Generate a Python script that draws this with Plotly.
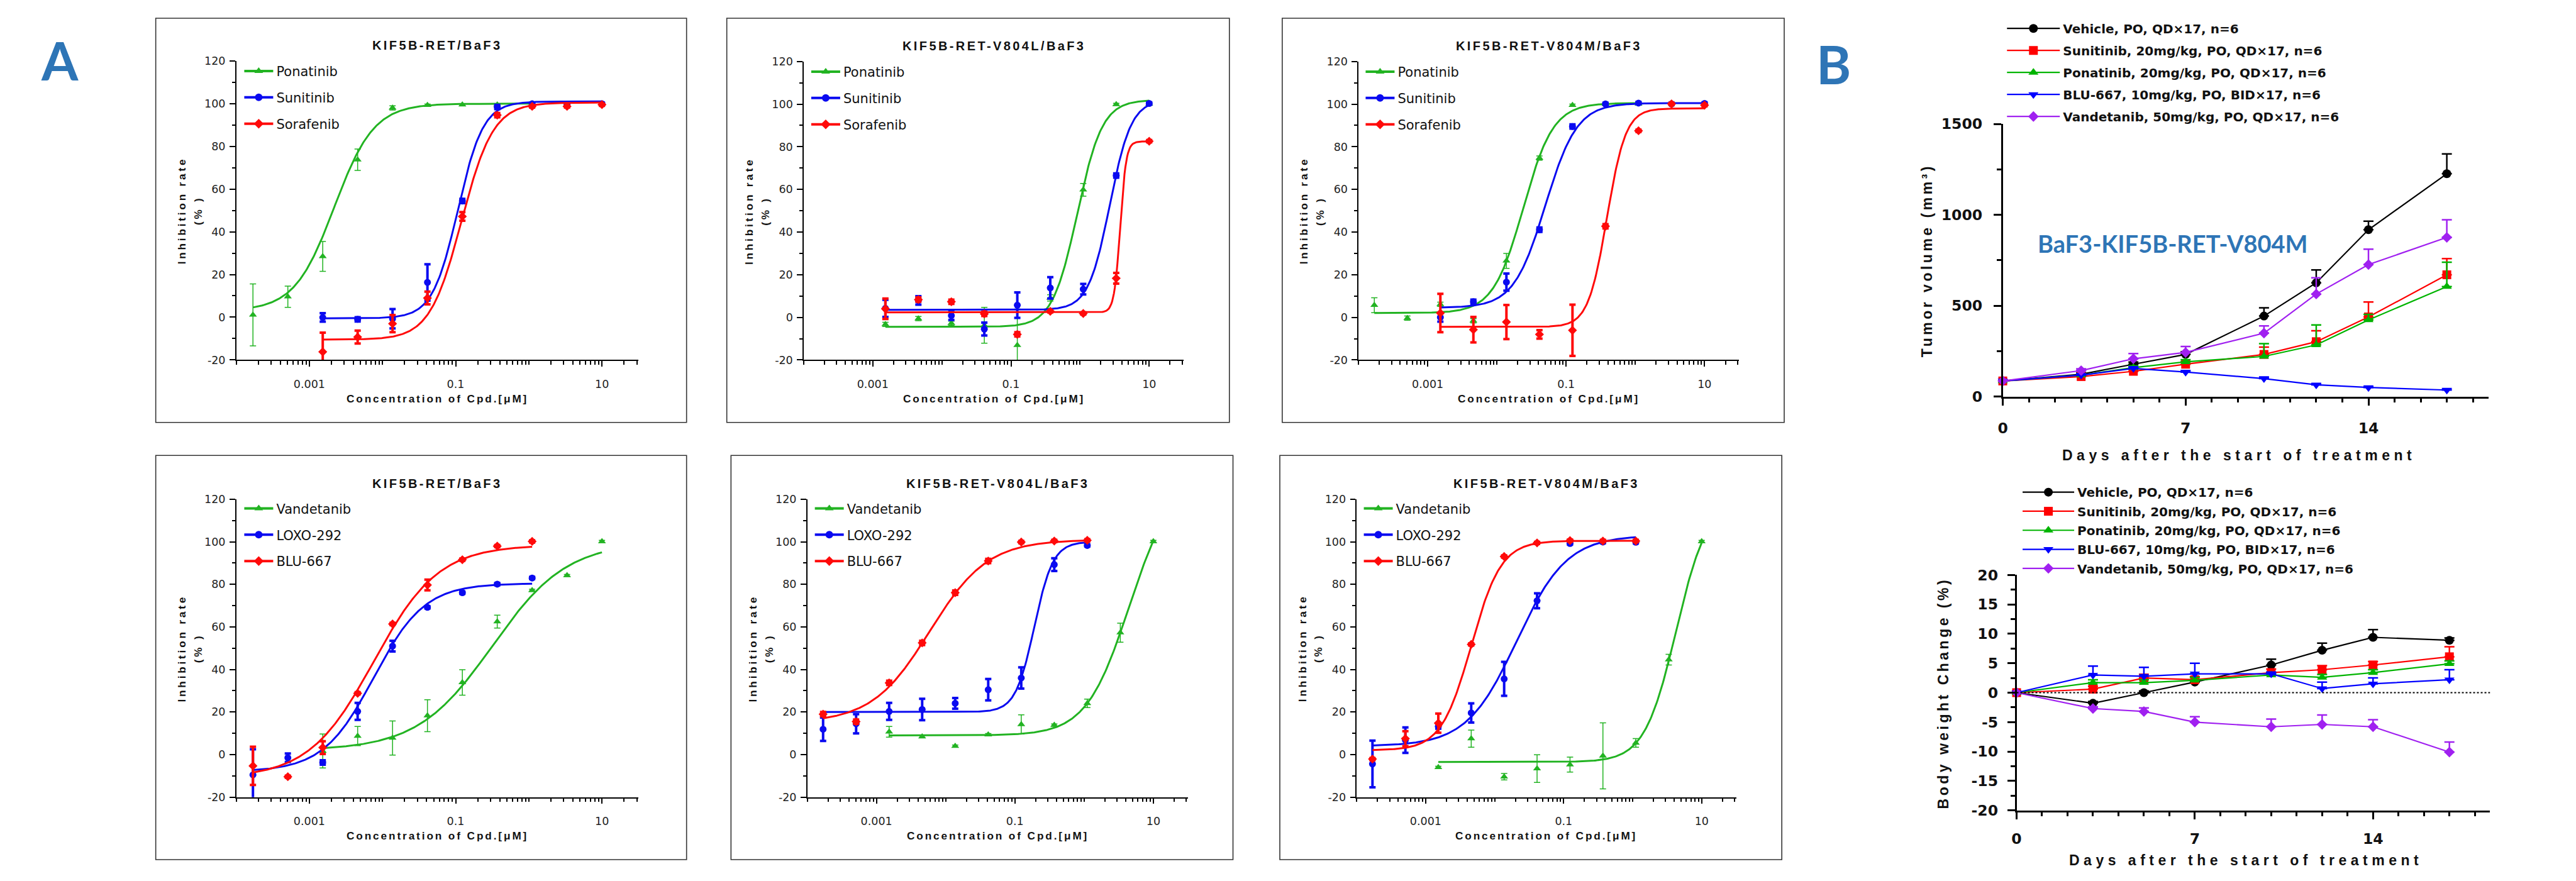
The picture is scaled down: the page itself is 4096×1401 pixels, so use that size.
import numpy as np
import plotly.graph_objects as go

# ============================ DATA ============================
# 3-fold dilution series (uM), highest -> lowest
conc = [10, 3.333, 1.111, 0.3704, 0.1235, 0.04115, 0.01372, 0.004572, 0.001524, 0.000508, 0.0001694]
conc_ticks = [0.001, 0.1, 10]
conc_ticklabels = ["0.001", "0.1", "10"]
inhib_ticks = [-20, 0, 20, 40, 60, 80, 100, 120]

panel_titles = ["KIF5B-RET/BaF3", "KIF5B-RET-V804L/BaF3", "KIF5B-RET-V804M/BaF3",
                "KIF5B-RET/BaF3", "KIF5B-RET-V804L/BaF3", "KIF5B-RET-V804M/BaF3"]
top_drugs = ["Ponatinib", "Sunitinib", "Sorafenib"]
bottom_drugs = ["Vandetanib", "LOXO-292", "BLU-667"]

N = None
# ---- panel 1 : KIF5B-RET/BaF3 ----
p1_ponatinib = [N, N, 99.9, 99.5, 99.5, 99.3, 98.0, 73.7, 28.5, 9.6, 1.1]
p1_ponatinib_sd = [N, N, 0.5, 0.5, 0.5, 0.5, 1.0, 5.0, 7.0, 5.0, 14.5]
p1_sunitinib = [99.9, 99.5, 99.9, 98.4, 54.4, 16.3, -0.7, -1.0, -0.1, N, N]
p1_sunitinib_sd = [0.5, 0.5, 0.5, 1.0, 1.0, 8.5, 4.5, 1.0, 2.0, N, N]
p1_sorafenib = [99.5, 98.7, 98.7, 94.6, 47.2, 9.0, -3.0, -9.3, -16.2, N, N]
p1_sorafenib_sd = [0.5, 0.5, 0.5, 1.0, 2.0, 3.0, 4.0, 3.0, 9.0, N, N]
# fit parameters [bottom, top, logIC50, hill]
p1_ponatinib_fit = [3, 100, -2.66, 1.6]
p1_sunitinib_fit = [-0.5, 101, -0.97, 2.5]
p1_sorafenib_fit = [-10.5, 100.5, -0.92, 2.0]

# ---- panel 2 : KIF5B-RET-V804L/BaF3 ----
p2_ponatinib = [100.1, 99.9, 59.8, 9.1, -13.1, -3.7, -2.8, -0.6, -3.3, N, N]
p2_ponatinib_sd = [0.5, 0.5, 3.0, 1.5, 17.0, 8.4, 1.0, 1.0, 1.0, N, N]
p2_sunitinib = [100.3, 66.5, 13.2, 13.8, 5.7, -5.5, 0.8, 7.9, 4.2, N, N]
p2_sunitinib_sd = [0.5, 1.0, 2.5, 5.0, 6.0, 3.0, 2.0, 2.0, 4.0, N, N]
p2_sorafenib = [82.6, 18.3, 1.8, 2.8, -8.0, 1.6, 7.3, 8.3, 4.0, N, N]
p2_sorafenib_sd = [0.5, 2.5, 0.5, 0.5, 1.0, 1.0, 1.0, 1.0, 4.8, N, N]
p2_ponatinib_fit = [-4.5, 102, -0.04, 2.4]
p2_sunitinib_fit = [3.5, 102, 0.43, 2.8]
p2_sorafenib_fit = [2.3, 82.5, 0.58, 10]

# ---- panel 3 : KIF5B-RET-V804M/BaF3 ----
p3_ponatinib = [N, N, 100.1, 100.1, 99.5, 74.7, 26.5, -1.6, 6.1, -0.4, 5.7]
p3_ponatinib_sd = [N, N, 0.5, 0.5, 0.5, 1.0, 3.5, 1.0, 1.0, 1.0, 3.5]
p3_sunitinib = [100.3, 100.1, 100.5, 100.1, 89.5, 41.1, 16.5, 7.3, 0.0, N, N]
p3_sunitinib_sd = [0.5, 0.5, 0.5, 0.5, 1.0, 1.0, 4.0, 1.0, 2.0, N, N]
p3_sorafenib = [99.5, 100.1, 87.5, 42.7, -6.1, -8.0, -2.2, -5.8, 2.0, N, N]
p3_sorafenib_sd = [0.5, 0.5, 0.5, 1.0, 12.0, 2.0, 8.0, 6.0, 9.0, N, N]
p3_ponatinib_fit = [2, 100.5, -1.62, 2.0]
p3_sunitinib_fit = [4.5, 100.5, -1.30, 1.9]
p3_sorafenib_fit = [-4.5, 98, -0.41, 3.2]

# ---- panel 4 : KIF5B-RET/BaF3 ----
p4_vandetanib = [100.2, 84.2, 77.2, 62.5, 33.9, 18.3, 7.8, 8.7, 1.7, N, N]
p4_vandetanib_sd = [0.5, 0.5, 0.5, 3.0, 6.0, 7.5, 8.0, 4.5, 8.0, N, N]
p4_loxo = [N, N, 83.0, 80.1, 76.1, 69.2, 51.0, 20.3, -3.7, -1.5, -9.5]
p4_loxo_sd = [N, N, 0.5, 0.5, 0.5, 0.5, 2.5, 4.0, 1.0, 2.0, 12.0]
p4_blu = [N, N, 100.2, 98.0, 91.6, 79.7, 61.4, 28.8, 3.3, -10.4, -5.3]
p4_blu_sd = [N, N, 0.5, 0.5, 0.5, 2.5, 0.5, 0.5, 3.0, 0.5, 9.0]
p4_vandetanib_fit = [2, 100, -0.5, 0.85]
p4_loxo_fit = [-8, 80.5, -2.12, 1.25]
p4_blu_fit = [-11, 98.5, -2.12, 0.98]

# ---- panel 5 : KIF5B-RET-V804L/BaF3 ----
p5_vandetanib = [100.2, 57.3, 24.1, 13.9, 14.2, 9.4, 4.0, 8.4, 10.7, N, N]
p5_vandetanib_sd = [0.5, 4.5, 2.0, 0.5, 4.5, 0.5, 0.5, 0.5, 2.5, N, N]
p5_loxo = [N, N, 98.3, 89.3, 36.0, 30.5, 24.1, 21.2, 20.3, 14.5, 11.9]
p5_loxo_sd = [N, N, 0.5, 3.0, 5.0, 5.0, 2.5, 5.0, 4.0, 4.5, 5.5]
p5_blu = [N, N, 100.7, 100.4, 99.9, 91.0, 76.1, 52.5, 33.7, 15.5, 19.0]
p5_blu_sd = [N, N, 0.5, 0.5, 0.5, 1.0, 1.0, 1.0, 1.0, 1.0, 1.0]
p5_vandetanib_fit = [9, 130, 0.65, 1.4]
p5_loxo_fit = [20, 100, -0.72, 3.2]
p5_blu_fit = [15, 101, -2.23, 1.04]

# ---- panel 6 : KIF5B-RET-V804M/BaF3 ----
p6_vandetanib = [100.2, 44.6, 5.5, -0.6, -4.7, -6.6, -10.4, 7.5, -6.0, N, N]
p6_vandetanib_sd = [0.5, 2.5, 2.0, 15.5, 3.5, 6.5, 1.5, 4.0, 0.5, N, N]
p6_loxo = [N, N, 99.8, 99.9, 99.2, 72.3, 35.6, 19.6, 13.2, 6.8, -4.4]
p6_loxo_sd = [N, N, 0.5, 0.5, 0.5, 3.5, 8.0, 4.5, 1.0, 6.0, 11.0]
p6_blu = [N, N, 100.4, 100.4, 100.6, 99.5, 93.1, 51.8, 14.8, 7.5, -2.1]
p6_blu_sd = [N, N, 0.5, 0.5, 0.5, 0.5, 0.5, 0.5, 4.5, 3.5, 0.5]
p6_vandetanib_fit = [-3.5, 120, 0.63, 1.9]
p6_loxo_fit = [4, 103, -1.68, 1.2]
p6_blu_fit = [2, 100.5, -2.34, 2.0]

# ---- panel B ----
days = [0, 3, 5, 7, 10, 12, 14, 17]
group_names = ["Vehicle, PO, QD×17, n=6",
               "Sunitinib, 20mg/kg, PO, QD×17, n=6",
               "Ponatinib, 20mg/kg, PO, QD×17, n=6",
               "BLU-667, 10mg/kg, PO, BID×17, n=6",
               "Vandetanib, 50mg/kg, PO, QD×17, n=6"]
tv_vehicle = [86, 123, 178, 232, 443, 626, 918, 1226]
tv_vehicle_sem = [5, 8, 12, 15, 45, 71, 47, 109]
tv_sunitinib = [86, 110, 139, 178, 232, 302, 438, 670]
tv_sunitinib_sem = [5, 8, 10, 15, 40, 60, 82, 89]
tv_ponatinib = [86, 118, 159, 191, 221, 284, 422, 605]
tv_ponatinib_sem = [5, 8, 10, 12, 70, 110, 30, 134]
tv_blu = [86, 118, 155, 135, 99, 65, 50, 36]
tv_blu_sem = [5, 5, 8, 8, 8, 6, 5, 5]
tv_vandetanib = [86, 143, 208, 243, 349, 564, 726, 876]
tv_vandetanib_sem = [5, 10, 29, 33, 40, 90, 85, 97]

bw_vehicle = [0, -1.8, 0.0, 1.8, 4.7, 7.2, 9.4, 8.9]
bw_vehicle_sem = [0, 0.3, 0.3, 0.3, 1.0, 1.2, 1.3, 0.4]
bw_sunitinib = [0, 0.6, 2.5, 2.2, 3.4, 3.9, 4.7, 6.1]
bw_sunitinib_sem = [0, 0.5, 0.6, 0.5, 0.6, 0.7, 0.6, 1.7]
bw_ponatinib = [0, 1.7, 1.7, 2.1, 3.0, 2.6, 3.4, 4.9]
bw_ponatinib_sem = [0, 0.5, 0.5, 0.5, 0.4, 0.5, 0.5, 0.5]
bw_blu = [0, 3.0, 2.8, 3.2, 3.2, 0.7, 1.5, 2.2]
bw_blu_sem = [0, 1.5, 1.5, 1.8, 0.3, 1.1, 1.0, 1.7]
bw_vandetanib = [0, -2.7, -3.2, -5.0, -5.8, -5.4, -5.8, -10.1]
bw_vandetanib_sem = [0, 0.3, 0.6, 0.9, 1.3, 1.6, 1.2, 1.7]

tv_ticks = [0, 500, 1000, 1500]
bw_ticks = [-20, -15, -10, -5, 0, 5, 10, 15, 20]
day_ticks = [0, 7, 14]
day_range = [0, 18.6]

# ============================ STYLE / GEOMETRY ============================
RW, RH = 4290, 1467          # reference pixel frame
S = 0.954
W, H = 4096, 1401
FONT = "Liberation Sans, Arial, sans-serif"
WIDEFONT = "DejaVu Sans, Verdana, sans-serif"
GREEN, BLUE, RED = "#22B322", "#0A0AF0", "#FF0A0A"
B_COLORS = ["#000000", "#FF0000", "#00B400", "#0000FF", "#A020F0"]
B_SYMBOLS = ["circle", "square", "triangle-up", "triangle-down", "diamond"]
LABEL_BLUE = "#2E75B6"
LEG_SHIFT = 11  # output px correction for plotly's legend item offset


def X(v):
    return v / RW


def Y(v):
    return 1 - v / RH


def ls(t, s):
    return f'<span style="letter-spacing:{s}px">{t}</span>'


# plot areas in reference px (left, right, top, bottom)
A_plot = [(385, 1055, 93, 591), (1330, 1963, 94, 591), (2254, 2888, 94, 591),
          (385, 1055, 823, 1319), (1336, 1970, 823, 1319), (2251, 2883, 823, 1319)]
A_box = [(251, 1135, 22, 695), (1202, 2039, 22, 695), (2127, 2963, 22, 695),
         (251, 1135, 750, 1423), (1209, 2045, 750, 1423), (2123, 2959, 750, 1423)]
B_plot = [(3327, 3327 + 18.6 * 43.5, 198, 652), (3350, 3350 + 18.6 * 42.4, 949, 1341)]

panels = [
    dict(names=top_drugs, vals=[p1_ponatinib, p1_sunitinib, p1_sorafenib],
         sds=[p1_ponatinib_sd, p1_sunitinib_sd, p1_sorafenib_sd],
         fits=[p1_ponatinib_fit, p1_sunitinib_fit, p1_sorafenib_fit]),
    dict(names=top_drugs, vals=[p2_ponatinib, p2_sunitinib, p2_sorafenib],
         sds=[p2_ponatinib_sd, p2_sunitinib_sd, p2_sorafenib_sd],
         fits=[p2_ponatinib_fit, p2_sunitinib_fit, p2_sorafenib_fit]),
    dict(names=top_drugs, vals=[p3_ponatinib, p3_sunitinib, p3_sorafenib],
         sds=[p3_ponatinib_sd, p3_sunitinib_sd, p3_sorafenib_sd],
         fits=[p3_ponatinib_fit, p3_sunitinib_fit, p3_sorafenib_fit]),
    dict(names=bottom_drugs, vals=[p4_vandetanib, p4_loxo, p4_blu],
         sds=[p4_vandetanib_sd, p4_loxo_sd, p4_blu_sd],
         fits=[p4_vandetanib_fit, p4_loxo_fit, p4_blu_fit]),
    dict(names=bottom_drugs, vals=[p5_vandetanib, p5_loxo, p5_blu],
         sds=[p5_vandetanib_sd, p5_loxo_sd, p5_blu_sd],
         fits=[p5_vandetanib_fit, p5_loxo_fit, p5_blu_fit]),
    dict(names=bottom_drugs, vals=[p6_vandetanib, p6_loxo, p6_blu],
         sds=[p6_vandetanib_sd, p6_loxo_sd, p6_blu_sd],
         fits=[p6_vandetanib_fit, p6_loxo_fit, p6_blu_fit]),
]
A_colors = [GREEN, BLUE, RED]
A_symbols = ["triangle-up", "circle", "diamond"]


def fit_curve(fit, xs):
    bottom, top, logc, hill = fit
    lx = np.linspace(np.log10(min(xs)), np.log10(max(xs)), 300)
    return 10 ** lx, bottom + (top - bottom) / (1 + 10 ** ((logc - lx) * hill))


def sfx(n):
    return "" if n == 1 else str(n)


def legend_cfg(mc_full, row1_full, font, itemwidth, gap):
    h = font["size"] * 1.3 + 3
    top = row1_full * S - 5 - h / 2
    return dict(x=(mc_full * S - 20 - LEG_SHIFT) / W, y=1 - top / H,
                xanchor="left", yanchor="top",
                bgcolor="rgba(0,0,0,0)", borderwidth=0, itemwidth=itemwidth,
                tracegroupgap=gap, traceorder="grouped", font=font,
                itemclick=False, itemdoubleclick=False)


fig = go.Figure()
layout = dict(width=W, height=H,
              margin=dict(l=0, r=0, t=0, b=0, pad=0, autoexpand=False),
              paper_bgcolor="white", plot_bgcolor="white", hovermode=False,
              font=dict(family=FONT, color="#111"), showlegend=True)
annotations = []
shapes = []

# minor (unlabelled) ticks on the log axes: every 1..9 x 10^k not carrying a label
minor_log = [m * 10.0 ** e for e in range(-4, 2) for m in range(1, 10)
             if m * 10.0 ** e < 31 and m * 10.0 ** e not in conc_ticks]
A_TICKFONT = dict(size=17.5, family=WIDEFONT, color="#222")
A_LEGFONT = dict(size=21, family=WIDEFONT, color="#111")

# ----------------------------- panel A -----------------------------
for pi, P in enumerate(panels):
    n = pi + 1
    s = sfx(n)
    l, r, t, b = A_plot[pi]
    layout["xaxis" + s] = dict(
        domain=[X(l), X(r)], anchor="y" + s, type="log", range=[-4, 1.5],
        tickmode="array", tickvals=conc_ticks, ticktext=conc_ticklabels,
        showline=True, linecolor="black", linewidth=2, ticks="outside",
        ticklen=9 * S, tickwidth=2, tickcolor="black", showgrid=False, zeroline=False,
        tickfont=A_TICKFONT, ticklabelstandoff=13, automargin=False,
        minor=dict(tickmode="array", tickvals=minor_log, ticks="outside", ticklen=5.5,
                   tickwidth=1.5, tickcolor="black", showgrid=False))
    layout["yaxis" + s] = dict(
        domain=[Y(b), Y(t)], anchor="x" + s, range=[-20, 120],
        tickmode="array", tickvals=inhib_ticks, ticktext=[str(v) for v in inhib_ticks],
        showline=True, linecolor="black", linewidth=2, ticks="outside",
        ticklen=9 * S, tickwidth=2, tickcolor="black", showgrid=False, zeroline=False,
        tickfont=A_TICKFONT, ticklabelstandoff=3, automargin=False,
        minor=dict(tickmode="linear", tick0=-20, dtick=10, ticks="outside", ticklen=5,
                   tickwidth=1.5, tickcolor="black", showgrid=False))
    for si in range(3):
        col = A_colors[si]
        vals, sds = P["vals"][si], P["sds"][si]
        xs = [c for c, v in zip(conc, vals) if v is not None]
        ys = [v for v in vals if v is not None]
        es = [e for e, v in zip(sds, vals) if v is not None]
        cx, cy = fit_curve(P["fits"][si], xs)
        fig.add_trace(go.Scatter(x=cx, y=cy, mode="lines", line=dict(color=col, width=3),
                                 xaxis="x" + s, yaxis="y" + s, showlegend=False))
        thick = 1.5 if si == 0 else 4
        fig.add_trace(go.Scatter(
            x=xs, y=ys, mode="markers",
            marker=dict(symbol=A_symbols[si], size=11, color=col, line=dict(width=0)),
            error_y=dict(type="data", array=es, visible=True, color=col,
                         thickness=thick, width=5),
            xaxis="x" + s, yaxis="y" + s, showlegend=False))
        fig.add_trace(go.Scatter(
            x=[None], y=[None], mode="lines+markers", name=P["names"][si],
            line=dict(color=col, width=4),
            marker=dict(symbol=A_symbols[si], size=12, color=col),
            xaxis="x" + s, yaxis="y" + s, legend="legend" + s,
            legendgroup=f"a{n}_{si}", showlegend=True))
    layout["legend" + s] = legend_cfg(
        l + 41, t + 17 if t < 700 else t + 16, A_LEGFONT, 46, 11.6)
    # titles
    cxp = (l + r) / 2
    annotations.append(dict(text=ls(panel_titles[pi], 3.4), x=X(cxp), y=Y(t - 26),
                            xref="paper", yref="paper", showarrow=False,
                            xanchor="center", yanchor="middle",
                            font=dict(size=20, family=FONT, color="#111", weight="bold")))
    annotations.append(dict(text=ls("Concentration of Cpd.[μM]", 2.9), x=X(cxp), y=Y(b + 64),
                            xref="paper", yref="paper", showarrow=False,
                            xanchor="center", yanchor="middle",
                            font=dict(size=17.2, family=FONT, color="#111", weight="bold")))
    annotations.append(dict(text=ls("Inhibition rate", 3.8), x=X(l - 91), y=Y((t + b) / 2),
                            xref="paper", yref="paper", showarrow=False, textangle=-90,
                            xanchor="center", yanchor="middle",
                            font=dict(size=17.2, family=FONT, color="#111", weight="bold")))
    annotations.append(dict(text=ls("(% )", 3.8), x=X(l - 64), y=Y((t + b) / 2),
                            xref="paper", yref="paper", showarrow=False, textangle=-90,
                            xanchor="center", yanchor="middle",
                            font=dict(size=17.2, family=FONT, color="#111", weight="bold")))
    bl, br, bt, bb = A_box[pi]
    shapes.append(dict(type="rect", xref="paper", yref="paper", x0=X(bl), x1=X(br),
                       y0=Y(bb), y1=Y(bt), line=dict(color="#333", width=1.6)))

# ----------------------------- panel B -----------------------------
tv_series = [(tv_vehicle, tv_vehicle_sem), (tv_sunitinib, tv_sunitinib_sem),
             (tv_ponatinib, tv_ponatinib_sem), (tv_blu, tv_blu_sem),
             (tv_vandetanib, tv_vandetanib_sem)]
bw_series = [(bw_vehicle, bw_vehicle_sem), (bw_sunitinib, bw_sunitinib_sem),
             (bw_ponatinib, bw_ponatinib_sem), (bw_blu, bw_blu_sem),
             (bw_vandetanib, bw_vandetanib_sem)]

B_TICKFONT = dict(size=23.5, family=WIDEFONT, color="#111", weight="bold")
B_LEGFONT = dict(size=20, family=WIDEFONT, color="#111", weight="bold")
for bi, (series, yticks, yrng, yminor, ytitle, xstand, ystand) in enumerate([
        (tv_series, tv_ticks, [0, 1500], 250, "Tumor volume (mm³)", 15, 13),
        (bw_series, bw_ticks, [-20, 20], 2.5, "Body weight Change (%)", 10, 10)]):
    n = 7 + bi
    s = sfx(n)
    l, r, t, b = B_plot[bi]
    layout["xaxis" + s] = dict(
        domain=[X(l), X(r)], anchor="y" + s, range=day_range,
        tickmode="array", tickvals=day_ticks, ticktext=[str(v) for v in day_ticks],
        showline=True, linecolor="black", linewidth=2.5, ticks="outside",
        ticklen=12, tickwidth=2.5, tickcolor="black", showgrid=False, zeroline=False,
        tickfont=B_TICKFONT, ticklabelstandoff=xstand, automargin=False,
        minor=dict(tickmode="linear", tick0=0, dtick=1, ticks="outside", ticklen=7,
                   tickwidth=2.5, tickcolor="black", showgrid=False))
    layout["yaxis" + s] = dict(
        domain=[Y(b), Y(t)], anchor="x" + s, range=yrng,
        tickmode="array", tickvals=yticks, ticktext=[str(v) for v in yticks],
        showline=True, linecolor="black", linewidth=2.5, ticks="outside",
        ticklen=12, tickwidth=2.5, tickcolor="black", showgrid=False, zeroline=False,
        tickfont=B_TICKFONT, ticklabelstandoff=ystand, automargin=False,
        minor=dict(tickmode="linear", tick0=yrng[0], dtick=yminor, ticks="outside",
                   ticklen=7, tickwidth=2.5, tickcolor="black", showgrid=False))
    for gi, (vals, sem) in enumerate(series):
        col = B_COLORS[gi]
        fig.add_trace(go.Scatter(
            x=days, y=vals, mode="lines+markers", name=group_names[gi],
            line=dict(color=col, width=2.2),
            marker=dict(symbol=B_SYMBOLS[gi], size=14 if gi != 4 else 13, color=col),
            error_y=dict(type="data", symmetric=False, array=sem,
                         arrayminus=[0] * len(sem), color=col, thickness=2.5, width=8),
            cliponaxis=False, xaxis="x" + s, yaxis="y" + s,
            legend="legend" + s, legendgroup=f"b{n}_{gi}"))
    if bi == 0:
        layout["legend" + s] = legend_cfg(3364, 39, B_LEGFONT, 84, 6.0)
        xt_y, yt_x, xt_x = 750, 3201, 3720
    else:
        layout["legend" + s] = legend_cfg(3390, 812, B_LEGFONT, 82, 1.3)
        xt_y, yt_x, xt_x = 1424, 3229, 3732
        shapes.append(dict(type="line", xref="x" + s, yref="y" + s,
                           x0=day_range[0], x1=day_range[1], y0=0, y1=0,
                           line=dict(color="black", width=2, dash="dot")))
    annotations.append(dict(text=ls("Days after the start of treatment", 6.5),
                            x=X(xt_x), y=Y(xt_y), xref="paper", yref="paper",
                            showarrow=False, xanchor="center", yanchor="middle",
                            font=dict(size=23, family=FONT, color="#111", weight="bold")))
    annotations.append(dict(text=ls(ytitle, 4.5), x=X(yt_x), y=Y((t + b) / 2),
                            xref="paper", yref="paper", showarrow=False, textangle=-90,
                            xanchor="center", yanchor="middle",
                            font=dict(size=23, family=FONT, color="#111", weight="bold")))

annotations.append(dict(text="BaF3-KIF5B-RET-V804M", x=X(3610), y=Y(397), xref="paper",
                        yref="paper", showarrow=False, xanchor="center", yanchor="middle",
                        font=dict(size=38, family="Lato, Open Sans, sans-serif",
                                  color=LABEL_BLUE, weight="bold")))
annotations.append(dict(text="A", x=X(91), y=Y(92), xref="paper", yref="paper",
                        showarrow=False, xanchor="center", yanchor="middle",
                        font=dict(size=84, family="Lato, Open Sans, sans-serif",
                                  color=LABEL_BLUE, weight="bold")))
annotations.append(dict(text="B", x=X(3045), y=Y(98), xref="paper", yref="paper",
                        showarrow=False, xanchor="center", yanchor="middle",
                        font=dict(size=84, family="Lato, Open Sans, sans-serif",
                                  color=LABEL_BLUE, weight="bold")))

layout["annotations"] = annotations
layout["shapes"] = shapes
fig.update_layout(**layout)
fig.write_html("out.html")
